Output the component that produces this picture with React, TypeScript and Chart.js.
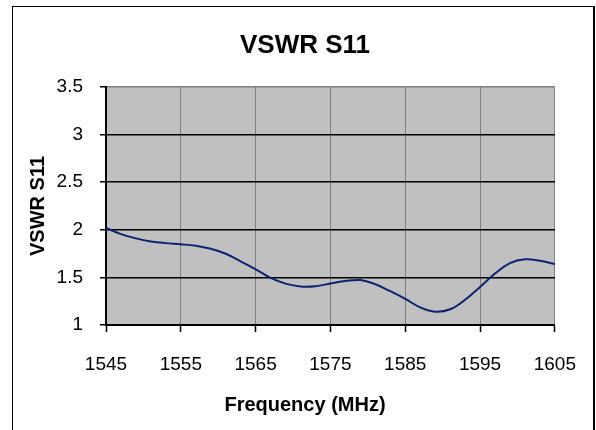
import React, { useEffect, useRef } from 'react';
import { Chart, registerables } from 'chart.js';

Chart.register(...registerables);

const chartTitle = 'VSWR S11';
const xAxisTitle = 'Frequency (MHz)';
const yAxisTitle = 'VSWR S11';

const frequencies = [
  1545, 1547, 1549, 1551, 1553, 1555, 1557, 1559, 1561, 1563, 1565, 1567, 1569, 1571, 1573, 1575,
  1577, 1579, 1581, 1583, 1585, 1587, 1589, 1591, 1593, 1595, 1597, 1599, 1601, 1603, 1605,
];
const vswrValues = [
  2.02, 1.955, 1.91, 1.878, 1.86, 1.848, 1.832, 1.8, 1.748, 1.668, 1.585, 1.495, 1.435, 1.405, 1.408, 1.435,
  1.462, 1.472, 1.428, 1.355, 1.275, 1.185, 1.14, 1.165, 1.265, 1.4, 1.54, 1.65, 1.69, 1.675, 1.64,
];

const xMin = 1545;
const xMax = 1605;
const xStep = 10;
const yMin = 1;
const yMax = 3.5;
const yStep = 0.5;

const FONT = '"Liberation Sans", Arial, Helvetica, sans-serif';

export default function App() {
  const ref = useRef<HTMLCanvasElement>(null);

  useEffect(() => {
    if (!ref.current) return;
    const plotBg = {
      id: 'plotBg',
      beforeDraw(chart: any) {
        const { ctx, chartArea } = chart;
        ctx.save();
        ctx.fillStyle = '#C0C0C0';
        ctx.fillRect(chartArea.left, chartArea.top, chartArea.width, chartArea.height);
        ctx.restore();
      },
    };
    const chart = new Chart(ref.current, {
      type: 'line',
      data: {
        datasets: [
          {
            data: frequencies.map((f, i) => ({ x: f, y: vswrValues[i] })),
            borderColor: '#0A2470',
            borderWidth: 2,
            pointRadius: 0,
            tension: 0.4,
            fill: false,
          },
        ],
      },
      options: {
        animation: false,
        responsive: false,
        layout: { padding: 0 },
        plugins: {
          legend: { display: false },
          tooltip: { enabled: false },
          title: {
            display: true,
            text: chartTitle,
            color: '#000',
            font: { family: FONT, size: 26, weight: 'bold' },
            padding: { top: 23, bottom: 25.8 },
          },
          subtitle: {
            display: true,
            position: 'bottom',
            text: xAxisTitle,
            color: '#000',
            font: { family: FONT, size: 20, weight: 'bold' },
            padding: { top: 0, bottom: 12.5 },
          },
        },
        scales: {
          x: {
            type: 'linear',
            min: xMin,
            max: xMax,
            ticks: {
              stepSize: xStep,
              color: '#000',
              font: { family: FONT, size: 19 },
              padding: 21,
              maxRotation: 0,
              autoSkip: false,
              callback: (v: any) => String(v),
            },
            grid: {
              color: '#808080',
              lineWidth: 1,
              tickColor: '#000',
              tickLength: 7,
              tickWidth: 1.5,
            },
            border: { color: '#000', width: 2 },
            afterFit: (s: any) => {
              s.height = 68.5;
            },
          },
          y: {
            min: yMin,
            max: yMax,
            ticks: {
              stepSize: yStep,
              color: '#000',
              font: { family: FONT, size: 19 },
              padding: 17,
              callback: (v: any) => String(v),
            },
            grid: {
              color: (c: any) => (c.tick && c.tick.value === yMax ? '#808080' : '#000'),
              lineWidth: 1.5,
              tickColor: '#000',
              tickLength: 6,
            },
            border: { color: '#000', width: 2 },
            title: {
              display: true,
              text: yAxisTitle,
              color: '#000',
              font: { family: FONT, size: 20, weight: 'bold' },
              padding: { top: 13, bottom: 0 },
            },
            afterFit: (s: any) => {
              s.width = 93;
            },
          },
          y2: {
            position: 'right',
            display: true,
            grid: { display: false },
            ticks: { display: false },
            border: { display: false },
            afterFit: (s: any) => {
              s.width = 42;
            },
          },
        },
      },
      plugins: [plotBg],
    } as any);
    return () => chart.destroy();
  }, []);

  return (
    <div
      style={{
        position: 'absolute',
        left: 12,
        top: 6,
        width: 580,
        height: 423,
        overflow: 'hidden',
        borderLeft: '1px solid #000',
        borderTop: '1px solid #000',
        borderRight: '2px solid #000',
        background: '#fff',
      }}
    >
      <canvas ref={ref} width={584} height={423} style={{ display: 'block' }} />
    </div>
  );
}
